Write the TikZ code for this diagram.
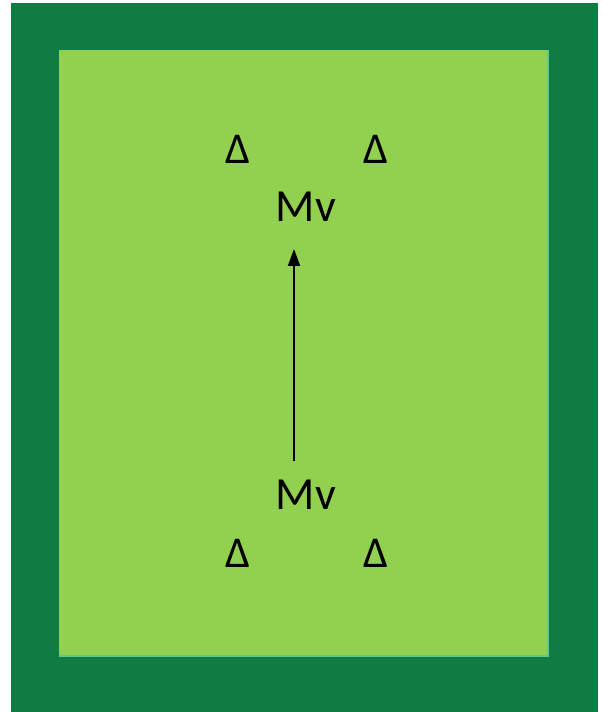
\documentclass[tikz,border=0pt]{standalone}
\usepackage{fontspec}
\setmainfont{Carlito}
\usetikzlibrary{arrows.meta}
\definecolor{darkgreen}{HTML}{0F7D43}
\definecolor{lightgreen}{HTML}{92D050}
\definecolor{edgegreen}{HTML}{5CC98A}
\begin{document}
\begin{tikzpicture}[x=1pt,y=-1pt,
  lbl/.style={inner sep=0pt, font=\fontsize{46}{50}\selectfont},
  tri/.style={inner sep=0pt, font=\fontsize{44}{48}\selectfont},
  arr/.style={-{Triangle[length=17pt,width=12pt]}, line width=2pt}]
\useasboundingbox (0,0) rectangle (604,712);
\fill[white] (0,0) rectangle (604,712);
\fill[darkgreen] (11,3) rectangle (598,712);
\fill[lightgreen] (59,50) rectangle (548,656);
\draw[edgegreen, line width=2pt] (548,50) -- (548,656) -- (59,656);
\node[tri] (t1) at (238,149) {Δ};
\node[tri] (t2) at (376,149) {Δ};
\node[lbl] (mt) at (306,207) {Mv};
\node[lbl] (mb) at (306,495) {Mv};
\node[tri] (b1) at (238,553) {Δ};
\node[tri] (b2) at (376,553) {Δ};
\draw[arr] ([xshift=-12pt,yshift=19pt]mb.north) -- ([xshift=-12pt,yshift=-27pt]mt.south);
\end{tikzpicture}
\end{document}
